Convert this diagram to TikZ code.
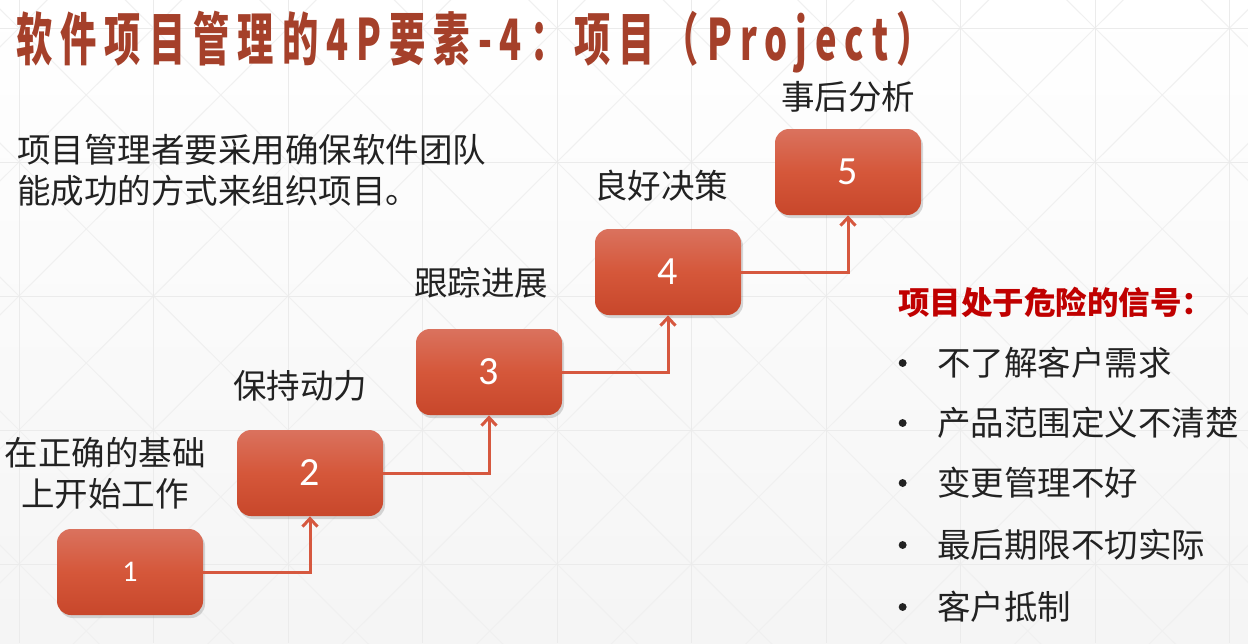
\documentclass[tikz,border=0pt]{standalone}
\usepackage{fontspec}
\usepackage{graphicx}
\usepackage{xcolor}
\usetikzlibrary{positioning,arrows.meta,shadows}

\newfontfamily\cjk{Noto Sans CJK SC}
\newfontfamily\titlefont[LetterSpace=22]{Noto Sans CJK SC}
\newfontfamily\numfont{Carlito}

\definecolor{TitleRed}{HTML}{A5402A}
\definecolor{WarnRed}{HTML}{C00000}
\definecolor{BoxTop}{HTML}{DA725E}
\definecolor{BoxMid}{HTML}{D5573A}
\definecolor{BoxBot}{HTML}{C8472B}
\definecolor{LinkRed}{HTML}{D6583F}
\definecolor{TextGray}{HTML}{222222}
\definecolor{GridGray}{HTML}{EBEBEB}
\definecolor{DiagGray}{HTML}{F0F0F0}

\begin{document}
\begin{tikzpicture}[x=0.5pt, y=-0.5pt,
        stepbox/.style={rounded corners=7pt, minimum width=73pt, minimum height=43pt,
            top color=BoxTop, bottom color=BoxBot, middle color=BoxMid, text=white,
            font=\numfont\fontsize{20}{24}\selectfont,
            drop shadow={opacity=0.3, shadow xshift=1pt, shadow yshift=-1.5pt}},
        lbl/.style={text=TextGray, font=\cjk\fontsize{16.75}{20.5}\selectfont, align=center, inner sep=0pt},
        link/.style={draw=LinkRed, line width=1.5pt, -{Straight Barb[length=4pt,width=7.5pt]}},
        item/.style={lbl, anchor=west,
            label={[circle, fill=TextGray, inner sep=1.4pt, label distance=15pt]left:{}}}
    ]

    % background
    \useasboundingbox (0,0) rectangle (1248,643);
    \fill[top color=white, bottom color=black!4] (0,0) rectangle (1248,643);
    \begin{scope}
        \clip (0,0) rectangle (1248,643);
        \foreach \i in {-1,...,9} \foreach \j in {-1,...,4} {
            \draw[DiagGray, line width=0.5pt] ({19+134.5*\i},{28+134*\j}) -- ++(134.5,134);
            \draw[DiagGray, line width=0.5pt] ({19+134.5*(\i+1)},{28+134*\j}) -- ++(-134.5,134);
        }
        \foreach \i in {0,...,9}
            \draw[GridGray, line width=0.5pt] ({19+134.5*\i},0) -- ({19+134.5*\i},643);
        \foreach \j in {0,...,4}
            \draw[GridGray, line width=0.5pt] (0,{28+134*\j}) -- (1248,{28+134*\j});
    \end{scope}

    \node[anchor=south west, inner sep=0pt, text=TitleRed] (title) at (16,74)
        {\resizebox*{458pt}{31pt}{\titlefont\bfseries 软件项目管理的4P要素-4：项目（Project）}};

    \node[lbl, anchor=west, align=left] (intro) at (17,170)
        {项目管理者要采用确保软件团队\\能成功的方式来组织项目。};

    % the five steps
    \node[stepbox, font=\numfont\fontsize{15}{18}\selectfont] (b1) at (130,572) {1};
    \node[stepbox] (b2) at ([xshift=90pt, yshift=49.5pt]b1.center) {2};
    \node[stepbox] (b3) at ([xshift=89.5pt, yshift=50.5pt]b2.center) {3};
    \node[stepbox] (b4) at ([xshift=89.5pt, yshift=50pt]b3.center) {4};
    \node[stepbox] (b5) at ([xshift=90pt, yshift=50pt]b4.center) {5};

    \node[lbl] (l1) at ([xshift=-12.5pt, yshift=27.75pt]b1.north) {在正确的基础\\上开始工作};
    \node[lbl] (l2) at ([xshift=-5pt, yshift=22pt]b2.north) {保持动力};
    \node[lbl] (l3) at ([xshift=-4pt, yshift=23pt]b3.north) {跟踪进展};
    \node[lbl] (l4) at ([xshift=-3.5pt, yshift=21.5pt]b4.north) {良好决策};
    \node[lbl] (l5) at ([yshift=16pt]b5.north) {事后分析};

    \draw[link] (b1.east) -| (b2.south);
    \draw[link] (b2.east) -| (b3.south);
    \draw[link] (b3.east) -| (b4.south);
    \draw[link] (b4.east) -| (b5.south);

    % warning signs
    \node[lbl, anchor=west, text=WarnRed, font=\cjk\bfseries\fontsize{15.75}{18}\selectfont] (warn) at (898,302)
        {项目处于危险的信号：};
    \node[item] (r1) at (937,363) {不了解客户需求};
    \node[item] (r2) at ([yshift=-30pt]r1.west) {产品范围定义不清楚};
    \node[item] (r3) at ([yshift=-30pt]r2.west) {变更管理不好};
    \node[item] (r4) at ([yshift=-31pt]r3.west) {最后期限不切实际};
    \node[item] (r5) at ([yshift=-31pt]r4.west) {客户抵制};

\end{tikzpicture}
\end{document}
